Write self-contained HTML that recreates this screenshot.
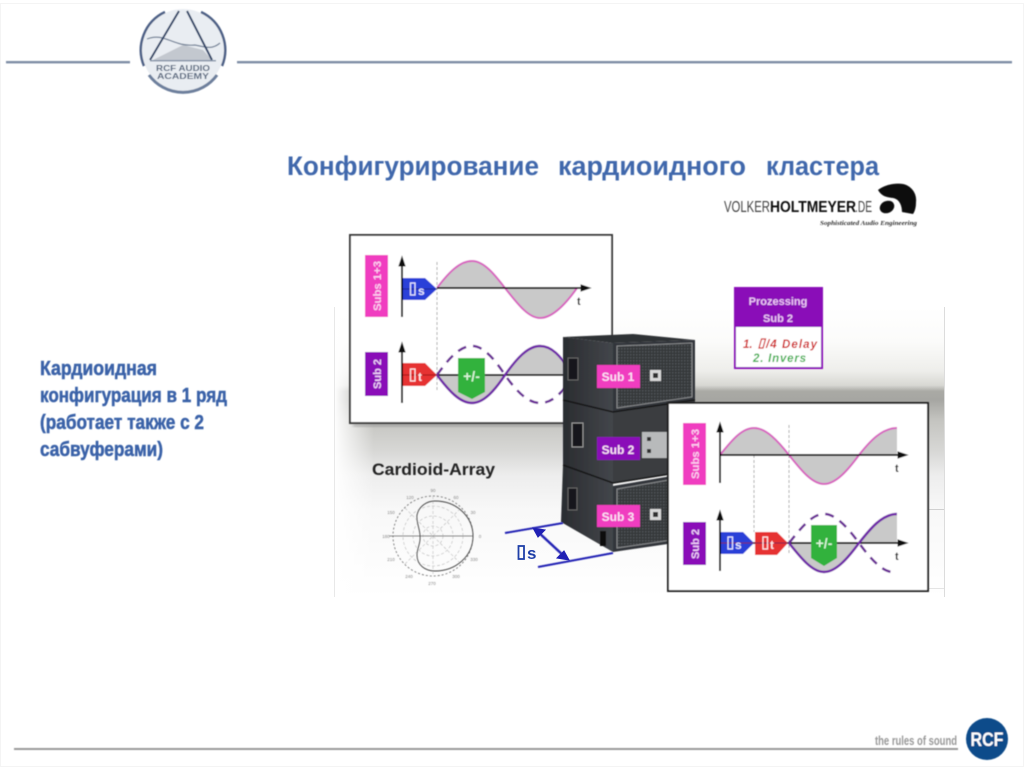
<!DOCTYPE html>
<html><head><meta charset="utf-8"><style>html,body{margin:0;padding:0;background:#fff;width:1024px;height:767px;overflow:hidden}svg{display:block}text{font-family:"Liberation Sans",sans-serif}</style></head><body>
<svg width="1024" height="767" viewBox="0 0 1024 767" xmlns="http://www.w3.org/2000/svg">
<defs>
<linearGradient id="bg" x1="0" y1="0" x2="0" y2="1">
<stop offset="0" stop-color="#fff"/><stop offset=".12" stop-color="#fbfbfa"/><stop offset=".22" stop-color="#eeeeeb"/><stop offset=".27" stop-color="#d8d8d3"/><stop offset=".29" stop-color="#aaaaa5"/><stop offset=".32" stop-color="#a6a6a2"/><stop offset=".39" stop-color="#c4c4c0"/><stop offset=".5" stop-color="#d8d8d6"/><stop offset=".58" stop-color="#ededed"/><stop offset=".7" stop-color="#f8f8f8"/><stop offset="1" stop-color="#fff"/>
</linearGradient>
<linearGradient id="fade" x1="0" y1="0" x2="1" y2="0"><stop offset="0" stop-color="#fff"/><stop offset="1" stop-color="#fff" stop-opacity="0"/></linearGradient>
<linearGradient id="sideF" x1="0" y1="0" x2="1" y2="0"><stop offset="0" stop-color="#2a2c30"/><stop offset="1" stop-color="#43464b"/></linearGradient>
<pattern id="gr" width="3" height="3" patternUnits="userSpaceOnUse"><rect width="3" height="3" fill="#34373b"/><rect width="1.5" height="1.5" fill="#4f5256"/></pattern>
<filter id="b" x="-5%" y="-5%" width="110%" height="110%"><feGaussianBlur stdDeviation="0.45"/></filter>
<filter id="s" x="-10%" y="-10%" width="120%" height="120%"><feGaussianBlur stdDeviation="1.5"/></filter>
</defs>

<rect x="0.5" y="3.5" width="1023" height="763" fill="none" stroke="#f4f4f4"/>

<!-- background band -->
<rect x="334" y="307" width="611" height="290" fill="url(#bg)"/>
<rect x="334" y="307" width="40" height="290" fill="url(#fade)"/>
<rect x="334" y="307" width="1" height="290" fill="#e8e8e8"/>
<rect x="944" y="307" width="1" height="290" fill="#dcdcdc"/>
<rect x="929" y="509" width="15" height="1" fill="#d0d0d0"/>
<rect x="929" y="588" width="15" height="1" fill="#e4e4e4"/>

<!-- header -->
<g filter="url(#b)">
<rect x="6" y="61" width="124" height="2.4" fill="#7f8ea6"/>
<rect x="237" y="61" width="775" height="2.4" fill="#7f8ea6"/>
<circle cx="183" cy="50" r="41" fill="#e9edf2"/>
<path d="M165 12 A42 42 0 0 0 144 66" fill="none" stroke="#4d6186" stroke-width="2.500"/>
<path d="M201 12 A42 42 0 0 1 222 66" fill="none" stroke="#4d6186" stroke-width="2.500"/>
<path d="M149 75 A42 42 0 0 0 217 75" fill="none" stroke="#6d7f9c" stroke-width="3"/>
<path d="M153 60 L183 45 L203 50 L212 60 Z" fill="#c3c8cf"/>
<path d="M147 39 C165 32 172 47 195 45 C205 47 212 50 220 43" fill="none" stroke="#6f7f95" stroke-width="1.200"/>
<path d="M150 60 L179 11 M187 11 L212 60" stroke="#2f4467" stroke-width="2" fill="none"/>
<rect x="150" y="60" width="66" height="1.500" fill="#8796aa"/>
<text x="183" y="71" font-size="8.500" font-weight="700" text-anchor="middle" fill="#56667e" textLength="54" lengthAdjust="spacingAndGlyphs">RCF AUDIO</text>
<text x="183" y="79" font-size="8.500" font-weight="700" text-anchor="middle" fill="#56667e" textLength="52" lengthAdjust="spacingAndGlyphs">ACADEMY</text>
</g>

<!-- title -->
<g fill="#3f68ac" font-size="27" font-weight="700" filter="url(#b)">
<text x="287" y="175" textLength="252" lengthAdjust="spacingAndGlyphs">Конфигурирование</text>
<text x="558" y="175" textLength="188" lengthAdjust="spacingAndGlyphs">кардиоидного</text>
<text x="766" y="175" textLength="113" lengthAdjust="spacingAndGlyphs">кластера</text>
</g>

<!-- left text -->
<g fill="#3a62a8" stroke="#3a62a8" stroke-width=".5" font-size="20" font-weight="700" filter="url(#b)">
<text x="40" y="375" textLength="117" lengthAdjust="spacingAndGlyphs">Кардиоидная</text>
<text x="40" y="402" textLength="187" lengthAdjust="spacingAndGlyphs">конфигурация в 1 ряд</text>
<text x="40" y="429" textLength="164" lengthAdjust="spacingAndGlyphs">(работает также с 2</text>
<text x="40" y="456" textLength="123" lengthAdjust="spacingAndGlyphs">сабвуферами)</text>
</g>

<!-- volker logo -->
<g filter="url(#b)">
<text x="724" y="212" font-size="16" fill="#444" textLength="46" lengthAdjust="spacingAndGlyphs">VOLKER</text>
<text x="770" y="212" font-size="16" font-weight="700" fill="#111" textLength="86" lengthAdjust="spacingAndGlyphs">HOLTMEYER</text>
<text x="855" y="212" font-size="16" fill="#444" textLength="17" lengthAdjust="spacingAndGlyphs">.DE</text>
<path d="M878 190 C886 184 896 183 903 184 C912 186 917 194 916 202 C916 207 915 211 913 214 L902 212 C902 205 899 199 893 198 C887 197 882 197 878 190 Z" fill="#0a0a0a"/>
<ellipse cx="887" cy="207" rx="7.500" ry="6" transform="rotate(-25 887 207)" fill="#111"/>
<text x="820" y="225" font-size="6.500" font-style="italic" font-weight="700" fill="#333" textLength="97" lengthAdjust="spacingAndGlyphs" style="font-family:'Liberation Serif',serif">Sophisticated Audio Engineering</text>
</g>

<!-- panel 1 -->
<g filter="url(#b)">
<rect x="353" y="422" width="262" height="5" fill="#888" opacity=".5" filter="url(#s)"/>
<rect x="350" y="235" width="262" height="188" fill="#fff" stroke="#3a3a3a" stroke-width="2"/>
<rect x="365" y="255" width="23" height="62" fill="#f03cc0"/>
<rect x="365" y="352" width="23" height="44" fill="#8a08b8"/>
<text transform="translate(381,286) rotate(-90)" font-size="11" font-weight="700" fill="#fbd0f0" text-anchor="middle" textLength="50" lengthAdjust="spacingAndGlyphs">Subs 1+3</text>
<text transform="translate(381,374) rotate(-90)" font-size="11" font-weight="700" fill="#f0d0f8" text-anchor="middle">Sub 2</text>
<line x1="437" y1="262" x2="437" y2="390" stroke="#aaa" stroke-dasharray="3 2"/>
<path d="M437 288 C449 272 460 261 472 261 C484 261 495 275 505 288 C517 303 528 318 540 318 C552 318 565 305 577 288 Z" fill="#c9c9c9"/>
<path d="M437 288 C449 272 460 261 472 261 C484 261 495 275 505 288 C517 303 528 318 540 318 C552 318 565 305 577 288" fill="none" stroke="#d864c0" stroke-width="2"/>
<path d="M402 317 V258" stroke="#111" stroke-width="2"/><path d="M402 257 l-3 9 h6 Z" fill="#111" stroke="#111"/>
<path d="M437 288 H584" stroke="#111" stroke-width="2"/><path d="M590 288 l-9 -3 v6 Z" fill="#111" stroke="#111"/>
<path d="M403 278 H425 L437 289 L425 300 H403 Z" fill="#2a3fd8"/>
<path d="M403 289 H437" stroke="#1a2490" stroke-width="1"/>
<rect x="410.500" y="283" width="4.500" height="12" fill="none" stroke="#e6e6ff" stroke-width="1.300"/>
<text x="418" y="295" font-size="12" font-weight="700" fill="#e6e6ff">s</text>
<text x="577" y="305" font-size="11" font-weight="700" fill="#222">t</text>

<path d="M437 375 C449 391 460 403 472 403 C484 403 495 390 505 375 C517 358 528 346 540 346 C552 346 560 356 570 370 V375 Z" fill="#c9c9c9"/>
<path d="M402 403 V344" stroke="#111" stroke-width="2"/><path d="M402 343 l-3 9 h6 Z" fill="#111" stroke="#111"/>
<path d="M437 375 H570" stroke="#111" stroke-width="2"/>
<path d="M437 375 C449 391 460 403 472 403 C484 403 495 390 505 375 C517 358 528 346 540 346 C552 346 560 356 570 370" fill="none" stroke="#7026a8" stroke-width="2.500"/>
<path d="M437 375 C449 358 460 346 472 346 C484 346 495 360 505 375 C517 392 528 403 540 403 C552 403 560 394 570 382" fill="none" stroke="#6a2a96" stroke-width="2.500" stroke-dasharray="9 7"/>
<path d="M403 363 H425 L437 375 L425 386 H403 Z" fill="#e63232"/>
<path d="M403 375 H437" stroke="#a01818" stroke-width="1"/>
<rect x="410.500" y="369" width="4.500" height="12" fill="none" stroke="#ffe6e6" stroke-width="1.300"/>
<text x="418" y="381" font-size="12" font-weight="700" fill="#ffe6e6">t</text>
<path d="M458 358 H485 V392 L472 399 L458 392 Z" fill="#33b23c"/>
<text x="471.500" y="381" font-size="14" font-weight="700" text-anchor="middle" fill="#d8f5d8">+/-</text>
</g>

<!-- speakers -->
<g filter="url(#b)">
<path d="M563 337 L633 334 L695 340 L613 343 Z" fill="#2e3034"/>
<path d="M563 337 L613 343 V412 L563 400 Z" fill="url(#sideF)"/>
<path d="M613 343 L695 340 V400 L613 412 Z" fill="#33363a"/>
<path d="M617 346 L692 343 V397 L617 408 Z" fill="url(#gr)" stroke="#8a8c8e"/>
<path d="M563 400 L613 412 V483 L563 465 Z" fill="url(#sideF)"/>
<path d="M613 412 L695 400 V470 L613 483 Z" fill="#3a3c40"/>
<path d="M563 465 L613 483 V552 L561 522 Z" fill="url(#sideF)"/>
<path d="M613 486 L695 472 V540 L613 552 Z" fill="#33363a"/>
<path d="M617 489 L692 476 V537 L617 548 Z" fill="url(#gr)" stroke="#8a8c8e"/>
<path d="M563 400 L613 412 L695 400 M563 465 L613 483 L695 470" stroke="#151515" stroke-width="1.500" fill="none"/>
<rect x="568" y="358" width="10" height="22" fill="#16181a" stroke="#666"/>
<rect x="572" y="423" width="11" height="24" fill="#16181a" stroke="#999"/>
<rect x="568" y="488" width="9" height="22" fill="#16181a" stroke="#666"/>
<rect x="600" y="531" width="6" height="15" fill="#111"/>
<rect x="650" y="370" width="11" height="11" fill="#d8d8d8"/><rect x="653" y="373" width="5" height="5" fill="#333"/>
<rect x="642" y="432" width="26" height="26" fill="#b8babb"/><rect x="647" y="437" width="4" height="4" fill="#333"/><rect x="647" y="449" width="4" height="4" fill="#333"/>
<rect x="650" y="509" width="11" height="11" fill="#d8d8d8"/><rect x="653" y="512" width="5" height="5" fill="#333"/>
<rect x="597" y="365" width="43" height="23" fill="#f03cc0"/>
<rect x="597" y="437" width="43" height="23" fill="#8a08b8"/>
<rect x="597" y="505" width="43" height="22" fill="#f03cc0"/>
<g font-size="12" font-weight="700" text-anchor="middle" fill="#fbe0f5">
<text x="618" y="381">Sub 1</text><text x="618" y="454">Sub 2</text><text x="618" y="521">Sub 3</text>
</g>
</g>

<!-- floor lines -->
<g filter="url(#b)" stroke="#2020b4" fill="none">
<path d="M505 533 L563 523 M538 567 L613 553" stroke-width="2"/>
<path d="M537 531 L565 557" stroke-width="2.500"/>
</g>
<path d="M533 528 l12 2 -7 7 Z M569 560 l-12 -2 7 -7 Z" fill="#2020b4" stroke="#2020b4"/>
<rect x="518.500" y="546" width="5.500" height="13" fill="none" stroke="#1f3fa8" stroke-width="1.800"/>
<text x="527" y="559" font-size="17" font-weight="700" fill="#1f3fa8">s</text>

<!-- cardioid -->
<text x="372" y="475" font-size="17" font-weight="700" fill="#222" textLength="123" lengthAdjust="spacingAndGlyphs" filter="url(#b)">Cardioid-Array</text>
<g fill="none" filter="url(#b)">
<circle cx="433" cy="536" r="40" stroke="#666" stroke-width=".8" stroke-dasharray="2 2"/>
<g stroke="#bbb" stroke-width=".6" stroke-dasharray="3 2">
<circle cx="433" cy="536" r="30"/><circle cx="433" cy="536" r="20"/><circle cx="433" cy="536" r="10"/>
<path d="M405 508 L461 564 M405 564 L461 508 M433 496 V576"/>
</g>
<path d="M389 536 H473" stroke="#666" stroke-width=".7"/>
<path d="M435 501 C458 501 473 518 473 536 C473 556 456 571 435 571 C425 571 417 565 417 555 C417 548 421 543 420 536 C420 529 416 522 417 515 C419 506 427 501 435 501 Z" stroke="#444" stroke-width=".9"/>
<g font-size="4.500" fill="#888" stroke="none" text-anchor="middle">
<text x="433" y="492">90</text><text x="410" y="499">120</text><text x="456" y="499">60</text><text x="391" y="514">150</text><text x="473" y="514">30</text><text x="386" y="538">180</text><text x="480" y="538">0</text><text x="391" y="561">210</text><text x="474" y="561">330</text><text x="409" y="578">240</text><text x="456" y="578">300</text><text x="432" y="585">270</text>
</g>
</g>

<!-- prozessing box -->
<g filter="url(#b)">
<rect x="735" y="288" width="87" height="80" fill="#fff" stroke="#8a08b8" stroke-width="2"/>
<rect x="735" y="288" width="87" height="39" fill="#8a08b8"/>
<text x="778" y="305" font-size="11" font-weight="700" fill="#ecc4f4" text-anchor="middle">Prozessing</text>
<text x="778" y="322" font-size="11" font-weight="700" fill="#ecc4f4" text-anchor="middle">Sub 2</text>
<text x="743" y="348" font-size="11.500" font-weight="700" font-style="italic" fill="#d02020">1.</text>
<polygon points="759,348 763,348 765.500,339 761.500,339" fill="none" stroke="#d02020" stroke-width="1.200"/>
<text x="766" y="348" font-size="11.500" font-weight="700" font-style="italic" fill="#d02020" textLength="51">/4 Delay</text>
<text x="753" y="362" font-size="11.500" font-weight="700" font-style="italic" fill="#40b050" textLength="53">2. Invers</text>
</g>

<!-- panel 2 -->
<g filter="url(#b)">
<rect x="668" y="403" width="260" height="188" fill="#fff" stroke="#222" stroke-width="2"/>
<rect x="683" y="423" width="23" height="62" fill="#f03cc0"/>
<rect x="683" y="522" width="23" height="43" fill="#8a08b8"/>
<text transform="translate(699,454) rotate(-90)" font-size="11" font-weight="700" fill="#fbd0f0" text-anchor="middle" textLength="50" lengthAdjust="spacingAndGlyphs">Subs 1+3</text>
<text transform="translate(699,544) rotate(-90)" font-size="11" font-weight="700" fill="#f0d0f8" text-anchor="middle">Sub 2</text>
<line x1="754" y1="430" x2="754" y2="532" stroke="#aaa" stroke-dasharray="3 2"/>
<line x1="789" y1="425" x2="789" y2="555" stroke="#aaa" stroke-dasharray="3 2"/>
<path d="M720 455 C732 440 742 428 754 428 C766 428 778 441 789 455 C801 470 812 484 824 484 C836 484 848 470 859 455 C870 441 882 428 897 428 V455 Z" fill="#c9c9c9"/>
<path d="M720 455 C732 440 742 428 754 428 C766 428 778 441 789 455 C801 470 812 484 824 484 C836 484 848 470 859 455 C870 441 882 428 897 428" fill="none" stroke="#d864c0" stroke-width="2"/>
<path d="M720 483 V424" stroke="#111" stroke-width="2"/><path d="M720 423 l-3 9 h6 Z" fill="#111" stroke="#111"/>
<path d="M720 455 H902" stroke="#111" stroke-width="2"/><path d="M907 455 l-9 -3 v6 Z" fill="#111" stroke="#111"/>
<text x="895" y="472" font-size="11" font-weight="700" fill="#222">t</text>

<path d="M789 543 C801 558 812 572 824 572 C836 572 848 558 859 543 C870 529 882 514 897 514 V543 Z" fill="#c9c9c9"/>
<path d="M720 571 V512" stroke="#111" stroke-width="2"/><path d="M720 511 l-3 9 h6 Z" fill="#111" stroke="#111"/>
<path d="M720 543 H902" stroke="#111" stroke-width="2"/><path d="M907 543 l-9 -3 v6 Z" fill="#111" stroke="#111"/>
<path d="M789 543 C801 558 812 572 824 572 C836 572 848 558 859 543 C870 529 882 514 897 514" fill="none" stroke="#7026a8" stroke-width="2.500"/>
<path d="M789 543 C801 528 812 514 824 514 C836 514 848 528 859 543 C870 558 882 572 893 572" fill="none" stroke="#6a2a96" stroke-width="2.500" stroke-dasharray="9 7"/>
<path d="M721 532 H743 L754 543 L743 554 H721 Z" fill="#2a3fd8"/>
<path d="M755 532 H777 L788 543 L777 555 H755 Z" fill="#e63232"/>
<path d="M721 543 H788" stroke="#7a2050" stroke-width="1"/>
<rect x="728" y="537" width="4.500" height="12" fill="none" stroke="#e6e6ff" stroke-width="1.300"/>
<text x="735" y="549" font-size="12" font-weight="700" fill="#e6e6ff">s</text>
<rect x="763" y="537" width="4.500" height="12" fill="none" stroke="#ffe6e6" stroke-width="1.300"/>
<text x="770" y="549" font-size="12" font-weight="700" fill="#ffe6e6">t</text>
<path d="M811 525 H837 V558 L824 566 L811 558 Z" fill="#33b23c"/>
<text x="824" y="548" font-size="14" font-weight="700" text-anchor="middle" fill="#d8f5d8">+/-</text>
<text x="895" y="560" font-size="11" font-weight="700" fill="#222">t</text>
</g>

<!-- footer -->
<g filter="url(#b)">
<rect x="14" y="748" width="944" height="2" fill="#9a9a9a"/>
<text x="875" y="745" font-size="13" font-weight="700" fill="#989898" textLength="82" lengthAdjust="spacingAndGlyphs">the rules of sound</text>
<circle cx="987" cy="739" r="21" fill="#0f4c8a"/>
<text x="987" y="746" font-size="19" font-weight="700" fill="#fff" text-anchor="middle" textLength="33" lengthAdjust="spacingAndGlyphs">RCF</text>
</g>
</svg>
</body></html>
